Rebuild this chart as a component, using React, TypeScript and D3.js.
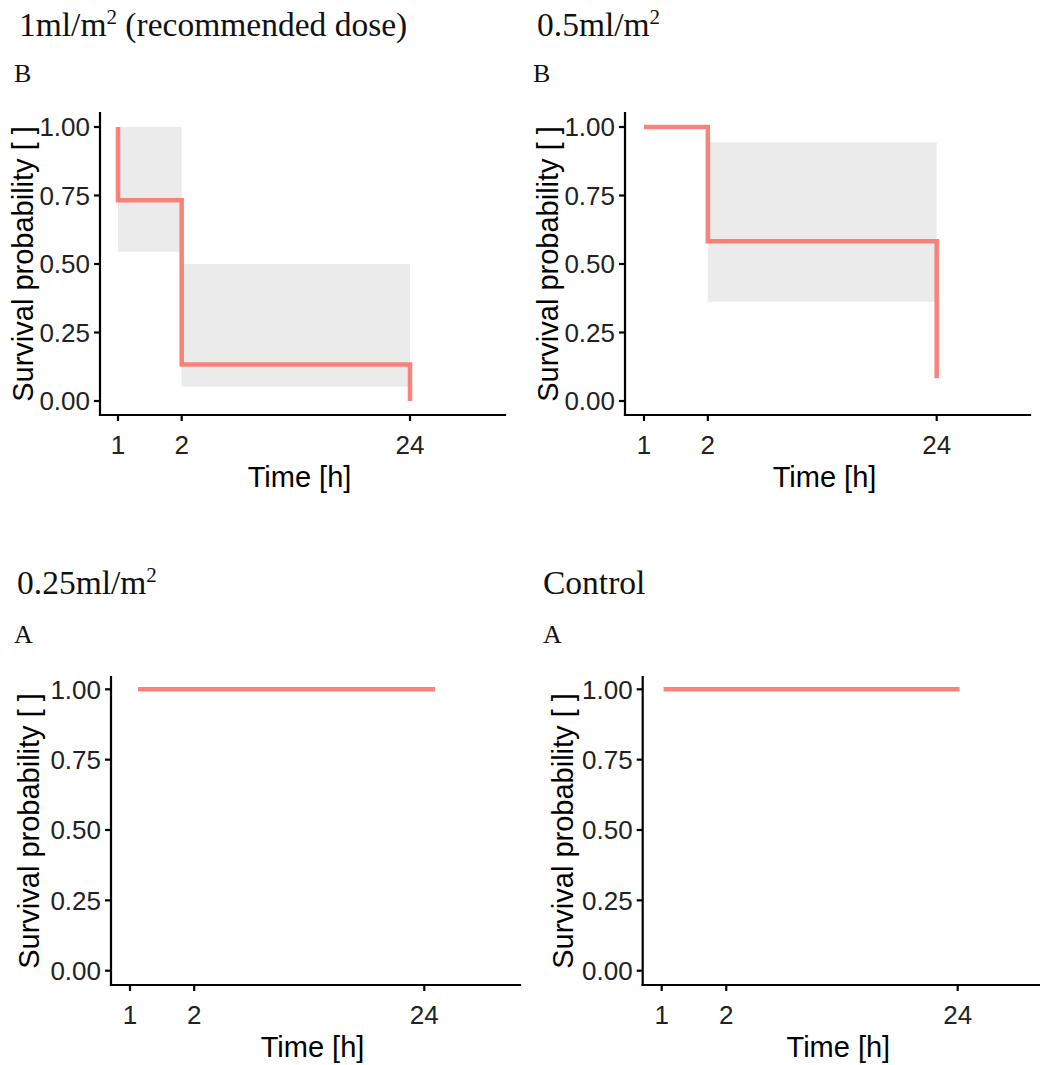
import React from "react";
import * as d3 from "d3";

// Kaplan–Meier estimates per dose group: [time (h), survival probability]
const recommendedSteps: [number, number][] = [[1, 1], [1, 0.733], [2, 0.133], [24, 0]];
const halfDoseSteps: [number, number][] = [[1, 1], [2, 0.583], [24, 0.083]];
const quarterDoseSteps: [number, number][] = [[1.09, 1], [27, 1]];
const controlSteps: [number, number][] = [[1.02, 1], [24.5, 1]];

// Confidence bands: [time (h), lower, upper]
const recommendedBand: [number, number, number][] = [[1, 0.545, 1.0], [2, 0.052, 0.5], [24, 0.052, 0.5]];
const halfDoseBand: [number, number, number][] = [[2, 0.362, 0.944], [24, 0.362, 0.944]];

// Panel headings: [text before superscript, superscript, text after]
const panelTitles: [string, string, string][] = [
  ["1ml/m", "2", " (recommended dose)"],
  ["0.5ml/m", "2", ""],
  ["0.25ml/m", "2", ""],
  ["Control", "", ""],
];
const groupLetters = ["B", "B", "A", "A"];
const timeTicks = [1, 2, 24];
const survTicks = [0, 0.25, 0.5, 0.75, 1];

const stepsByPanel = [recommendedSteps, halfDoseSteps, quarterDoseSteps, controlSteps];
const bandsByPanel = [recommendedBand, halfDoseBand, [], []];

// Pixel frame of each panel
const frames = [
  { ox: 100, top: 113, base: 415, right: 505, py1: 127, py0: 401, px1: 118, px24: 410, yTitleX: 33, titleX: 19, titleY: 36, letterX: 14, letterY: 82 },
  { ox: 625, top: 113, base: 415, right: 1030, py1: 127, py0: 401, px1: 644, px24: 936.7, yTitleX: 557.5, titleX: 537, titleY: 36, letterX: 533, letterY: 82 },
  { ox: 111, top: 677, base: 985, right: 520, py1: 689.3, py0: 970.7, px1: 130, px24: 424.3, yTitleX: 38.5, titleX: 17, titleY: 594, letterX: 14, letterY: 643 },
  { ox: 642.7, top: 677, base: 985, right: 1040, py1: 689.3, py0: 970.7, px1: 661.7, px24: 957.7, yTitleX: 572.5, titleX: 543, titleY: 594, letterX: 543, letterY: 643 },
];

const SANS = "'Liberation Sans', Arial, sans-serif";
const SERIF = "'Liberation Serif', 'Times New Roman', serif";
const LINE = "#F8766D";
const TICK_FONT = 26;
const TITLE_FONT = 29;

function Panel({ i }: { i: number }) {
  const f = frames[i];
  const x = d3.scaleLog().domain([1, 24]).range([f.px1, f.px24]);
  const y = d3.scaleLinear().domain([0, 1]).range([f.py0, f.py1]);

  const line = d3
    .line<[number, number]>()
    .x((d) => x(d[0]))
    .y((d) => y(d[1]))
    .curve(d3.curveStepAfter);

  const area = d3
    .area<[number, number, number]>()
    .x((d) => x(d[0]))
    .y0((d) => y(d[1]))
    .y1((d) => y(d[2]))
    .curve(d3.curveStepAfter);

  const band = bandsByPanel[i] as [number, number, number][];
  const midX = (f.ox + f.right) / 2 - 3;
  const midY = (f.top + f.base) / 2;
  const [pre, sup, post] = panelTitles[i];

  return (
    <g>
      <text x={f.titleX} y={f.titleY} fontFamily={SERIF} fontSize={33.5} fill="#111">
        {pre}
        {sup && (
          <tspan fontSize={21} dy={-12}>
            {sup}
          </tspan>
        )}
        {post && <tspan dy={12}>{post}</tspan>}
      </text>
      <text x={f.letterX} y={f.letterY} fontFamily={SERIF} fontSize={26} fill="#111">
        {groupLetters[i]}
      </text>

      {band.length > 0 && <path d={area(band) ?? ""} fill="#EBEBEB" />}
      <path d={line(stepsByPanel[i]) ?? ""} fill="none" stroke={LINE} strokeWidth={4.5} strokeOpacity={0.9} />

      {/* axes */}
      <line x1={f.ox} x2={f.ox} y1={f.top} y2={f.base} stroke="#000" strokeWidth={2.2} strokeLinecap="square" />
      <line x1={f.ox} x2={f.right} y1={f.base} y2={f.base} stroke="#000" strokeWidth={2.2} strokeLinecap="square" />
      {survTicks.map((v) => (
        <g key={"y" + v}>
          <line x1={f.ox - 6} x2={f.ox} y1={y(v)} y2={y(v)} stroke="#000" strokeWidth={2.2} />
          <text x={f.ox - 10} y={y(v)} dy="0.36em" textAnchor="end" fontFamily={SANS} fontSize={TICK_FONT} fill="#222">
            {v.toFixed(2)}
          </text>
        </g>
      ))}
      {timeTicks.map((t) => (
        <g key={"x" + t}>
          <line x1={x(t)} x2={x(t)} y1={f.base} y2={f.base + 6} stroke="#000" strokeWidth={2.2} />
          <text x={x(t)} y={f.base + 39} textAnchor="middle" fontFamily={SANS} fontSize={TICK_FONT} fill="#222">
            {t}
          </text>
        </g>
      ))}
      <text x={midX} y={f.base + 72} textAnchor="middle" fontFamily={SANS} fontSize={TITLE_FONT} fill="#000">
        Time [h]
      </text>
      <text
        transform={`translate(${f.yTitleX},${midY}) rotate(-90)`}
        textAnchor="middle"
        fontFamily={SANS}
        fontSize={TITLE_FONT}
        fill="#000"
      >
        Survival probability [ ]
      </text>
    </g>
  );
}

export default function App() {
  return (
    <svg
      width={1040}
      height={1065}
      style={{ position: "absolute", left: 0, top: 0, display: "block", background: "#fff" }}
    >
      <rect width={1040} height={1065} fill="#fff" />
      {[0, 1, 2, 3].map((i) => (
        <Panel key={i} i={i} />
      ))}
    </svg>
  );
}
